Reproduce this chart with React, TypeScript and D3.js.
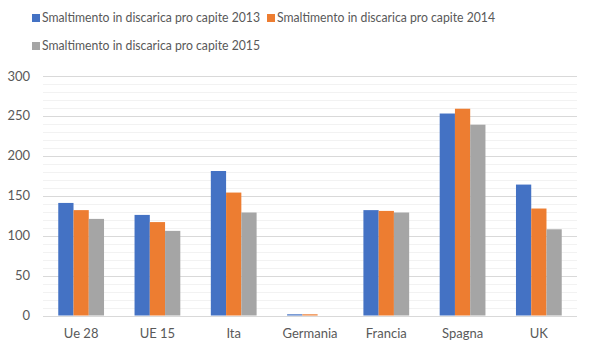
import React from "react";
import * as d3 from "d3";

const categories = ["Ue 28", "UE 15", "Ita", "Germania", "Francia", "Spagna", "UK"];
const seriesNames = [
  "Smaltimento in discarica pro capite 2013",
  "Smaltimento in discarica pro capite 2014",
  "Smaltimento in discarica pro capite 2015",
];
const values2013 = [141, 126, 181, 1.5, 132, 253, 164];
const values2014 = [132, 117, 154, 1.5, 131, 259, 134];
const values2015 = [121, 106, 129, 0, 129, 239, 108];
const colors = ["#4472C4", "#ED7D31", "#A5A5A5"];
const yTicks = [0, 50, 100, 150, 200, 250, 300];

const W = 592;
const H = 355;
const left = 43;
const right = 577;
const top = 76;
const bottom = 315.5;
const FONT = "Lato, 'Liberation Sans', sans-serif";

export default function App() {
  const series = [values2013, values2014, values2015];
  const x = d3.scaleBand<string>().domain(categories).range([left, right]).paddingInner(0.4).paddingOuter(0.2);
  const y = d3.scaleLinear().domain([0, 300]).range([bottom, top]);
  const bw = x.bandwidth() / 3;
  const minor = d3.range(0, 301, 10).filter((v) => v % 50 !== 0);

  return (
    <svg width={W} height={H} style={{ position: "absolute", left: 0, top: 0, background: "#fff" }}>
      <rect x={0} y={0} width={W} height={H} fill="#fff" />
      {minor.map((v) => (
        <line key={"m" + v} x1={left} x2={right} y1={Math.round(y(v)) + 0.5} y2={Math.round(y(v)) + 0.5} stroke="#f2f2f2" />
      ))}
      {yTicks.map((v) => (
        <line key={"g" + v} x1={left} x2={right} y1={Math.round(y(v)) + 0.5} y2={Math.round(y(v)) + 0.5} stroke="#d9d9d9" />
      ))}
      {yTicks.map((v) => (
        <text key={"t" + v} x={30} y={y(v)} dy="0.35em" textAnchor="end" fontSize={13} fill="#595959" fontFamily={FONT}>
          {v}
        </text>
      ))}
      {categories.map((c, i) =>
        series.map((s, j) => (
          <rect
            key={c + j}
            x={(x(c) as number) + j * bw}
            y={y(s[i])}
            width={bw}
            height={bottom - y(s[i])}
            fill={colors[j]}
          />
        ))
      )}
      {categories.map((c) => (
        <text key={"x" + c} x={(x(c) as number) + x.bandwidth() / 2} y={338} textAnchor="middle" fontSize={13} fill="#595959" fontFamily={FONT}>
          {c}
        </text>
      ))}
      {seriesNames.map((n, i) => {
        const lx = i === 1 ? 267 : 32;
        const ly = i === 2 ? 46 : 18;
        return (
          <g key={n}>
            <rect x={lx} y={ly - 4} width={8} height={8} fill={colors[i]} />
            <text x={lx + 10} y={ly} dy="0.35em" fontSize={12.5} fill="#595959" fontFamily={FONT} textLength={218} lengthAdjust="spacingAndGlyphs">
              {n}
            </text>
          </g>
        );
      })}
    </svg>
  );
}
